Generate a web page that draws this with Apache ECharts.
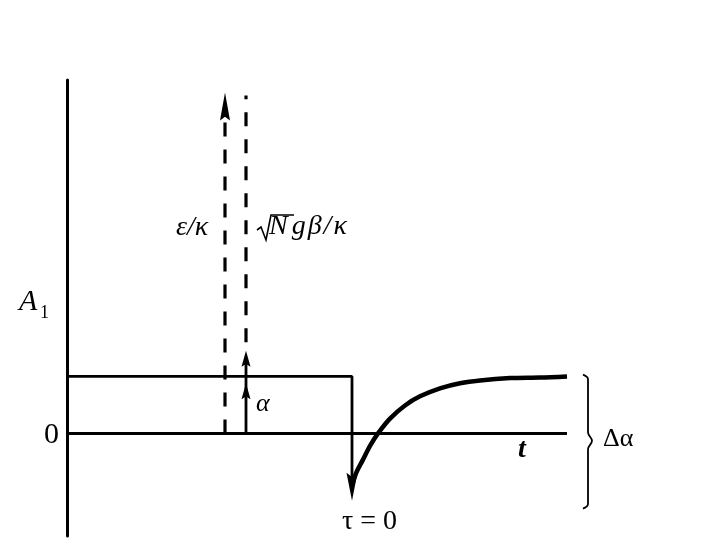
<!DOCTYPE html>
<html>
<head>
<meta charset="utf-8">
<script src="https://cdn.jsdelivr.net/npm/echarts@6/dist/echarts.min.js"></script>
<style>
  html, body { margin: 0; padding: 0; background: #fff; }
  #chart { width: 714px; height: 556px; }
</style>
</head>
<body>
<div id="chart"></div>
<script>
// time axis t (arbitrary units), amplitude A1 in units of alpha
const zeroLineT = [0, 10];
const stepT = [0, 5.7];          // A1 = alpha until tau = 0
const alphaLevel = 1;
const dropBottom = -1.18;        // tip of the sudden drop at tau = 0
const epsT = 3.16;               // epsilon/kappa dashed arrow
const epsTop = 5.98;
const sqrtT = 3.58;              // sqrt(N) g beta / kappa dashed arrow
const sqrtTop = 5.93;
const sqrtDashBottom = 1.6;
const alphaArrowMid = 0.88;
const alphaArrowTop = 1.45;
// recovery after tau = 0
const recoveryT = [5.72, 5.8, 5.92, 6.06, 6.22, 6.46, 6.76, 7.06, 7.46, 7.86, 8.26, 8.86, 9.46, 10];
const recoveryA = [-0.85, -0.66, -0.46, -0.22, 0, 0.26, 0.49, 0.65, 0.79, 0.88, 0.93, 0.97, 0.98, 1.0];
// brace for delta alpha
const braceT = [10.32, 10.42, 10.42, 10.5, 10.42, 10.42, 10.32];
const braceA = [1.03, 0.95, 0.02, -0.13, -0.28, -1.24, -1.32];

const chart = echarts.init(document.getElementById('chart'));

function lineSeries(data, w, type, smooth) {
  return {
    type: 'line', data: data, symbol: 'none', silent: true, smooth: smooth || false,
    lineStyle: { color: '#000', width: w, type: type || 'solid', cap: 'butt' }, z: 3
  };
}

// 箭头：scatter 的三角形符号，尖端对准数据点
function arrowHeads(data, path, size, offsetY) {
  return {
    type: 'scatter', silent: true, z: 5,
    symbol: path, symbolSize: size, symbolOffset: [0, offsetY],
    itemStyle: { color: '#000', opacity: 1 },
    data: data
  };
}

const serif = '"Liberation Serif", "DejaVu Serif", serif';
const txt = (left, top, text, font) => ({ type: 'text', left: left, top: top, style: { text: text, font: font, fill: '#000' } });

const option = {
  animation: false,
  grid: { left: 67, top: 80, width: 600, height: 456 },
  xAxis: {
    type: 'value', min: 0, max: 12,
    axisLine: { show: false }, axisTick: { show: false },
    axisLabel: { show: false }, splitLine: { show: false }
  },
  yAxis: {
    type: 'value', min: -1.8, max: 6.2,
    axisLine: { show: true, onZero: false, lineStyle: { color: '#000', width: 3 } },
    axisTick: { show: false }, axisLabel: { show: false }, splitLine: { show: false }
  },
  series: [
    // zero line
    lineSeries(zeroLineT.map(t => [t, 0]), 3),
    // alpha level then drop
    lineSeries(stepT.map(t => [t, alphaLevel]).concat([[stepT[1], dropBottom + 0.2]]), 2.8),
    // recovery curve
    lineSeries(recoveryT.map((t, i) => [t, recoveryA[i]]), 4.5, 'solid', 0.3),
    // epsilon / kappa dashed
    lineSeries([[epsT, 0], [epsT, epsTop - 0.3]], 3.2, [14, 13]),
    // sqrt(N) g beta / kappa dashed
    lineSeries([[sqrtT, sqrtDashBottom], [sqrtT, sqrtTop]], 3.2, [14, 13]),
    // alpha arrow
    lineSeries([[sqrtT, 0], [sqrtT, alphaArrowTop - 0.2]], 2.8),
    // brace
    lineSeries(braceT.map((t, i) => [t, braceA[i]]), 1.8, 'solid', 0.4),
    arrowHeads([[epsT, epsTop]], 'path://M5,0 L10,30 L5,26 L0,30 Z', [10, 28], 14),
    arrowHeads([[sqrtT, alphaArrowTop], [sqrtT, alphaArrowMid]], 'path://M5,0 L10,24 L5,20 L0,24 Z', [9, 16], 8),
    arrowHeads([[stepT[1], dropBottom]], 'path://M0,0 L5,4 L10,0 L5,26 Z', [11, 28], -14)
  ],
  graphic: [
    txt(19, 287, 'A', 'italic 30px ' + serif),
    txt(40, 304, '1', '18px ' + serif),
    txt(44, 420, '0', '30px ' + serif),
    txt(176, 214, 'ε/κ', 'italic 28px ' + serif),
    // radical sign over N
    {
      type: 'polyline',
      shape: { points: [[257, 230], [261, 227], [266, 240], [271, 215], [294, 215]] },
      style: { stroke: '#000', lineWidth: 1.6, fill: null }
    },
    {
      type: 'text', left: 269, top: 213,
      style: {
        text: '{n|N}{o|g}{o|β}{o|/}{o|κ}', fill: '#000',
        rich: {
          n: { font: 'italic 28px ' + serif, padding: [0, 4, 0, 0] },
          o: { font: 'italic 28px ' + serif, padding: [0, 2, 0, 0] }
        }
      }
    },
    txt(256, 391, 'α', 'italic 26px ' + serif),
    txt(518, 436, 't', 'italic bold 28px ' + serif),
    txt(342, 508, 'τ = 0', '28px ' + serif),
    txt(603, 426, 'Δα', '26px ' + serif)
  ]
};

chart.setOption(option);
</script>
</body>
</html>
